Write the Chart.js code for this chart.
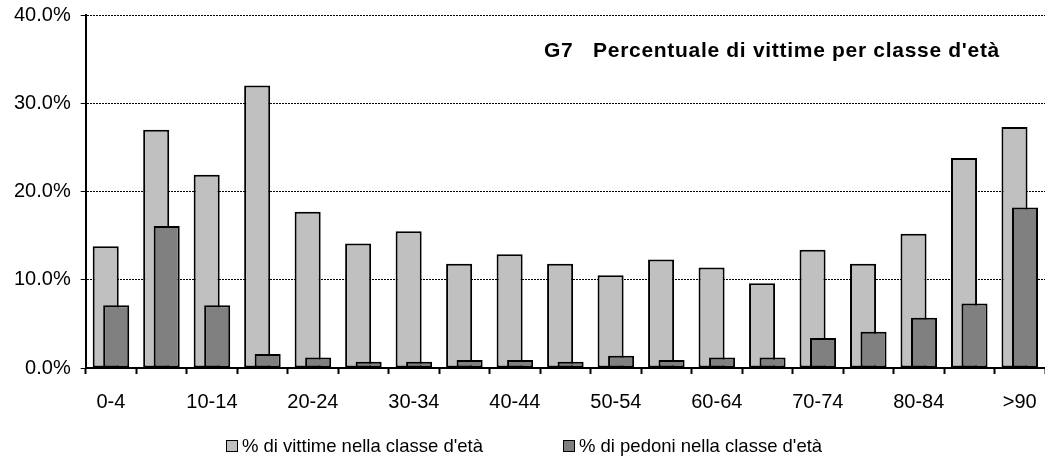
<!DOCTYPE html>
<html lang="it">
<head>
<meta charset="utf-8">
<title>G7 Percentuale di vittime per classe d'età</title>
<script src="https://cdn.jsdelivr.net/npm/chart.js@4/dist/chart.umd.min.js"></script>
<style>
  html, body { margin: 0; padding: 0; background: #fff; }
  #wrap { position: relative; width: 1045px; height: 457px; }
  #legend {
    position: absolute; left: 0; right: 0; top: 437px;
    display: flex; justify-content: center; align-items: center;
    font: 18.5px/18px "Liberation Sans", Arial, sans-serif; color: #000;
    padding-left: 3px;
  }
  .item { display: flex; align-items: center; margin: 0 40px; }
  .box { width: 10px; height: 10px; border: 1px solid #000; margin-right: 4px; }
</style>
</head>
<body>
<div id="wrap">
  <canvas id="chart" width="1045" height="457"></canvas>
  <div id="legend"></div>
</div>
<script>
const ageClasses = ["0-4", "5-9", "10-14", "15-19", "20-24", "25-29", "30-34", "35-39", "40-44",
  "45-49", "50-54", "55-59", "60-64", "65-69", "70-74", "75-79", "80-84", "85-89", ">90"];
const vittime = [13.8, 27.0, 21.9, 32.0, 17.7, 14.1, 15.5, 11.8, 12.9, 11.8, 10.5, 12.3, 11.4, 9.6, 13.4, 11.8, 15.2, 23.8, 27.3];
const pedoni = [7.1, 16.1, 7.1, 1.6, 1.2, 0.7, 0.7, 0.9, 0.9, 0.7, 1.4, 0.9, 1.2, 1.2, 3.4, 4.1, 5.7, 7.3, 18.2];
const yTicks = [0, 10, 20, 30, 40];
const seriesLabels = ["% di vittime nella classe d'età", "% di pedoni nella classe d'età"];
const chartTitle = "G7   Percentuale di vittime per classe d'età";

Chart.defaults.font.family = '"Liberation Sans", Arial, sans-serif';
Chart.defaults.color = "#000";

// title sits inside the plot, top right
const titleInside = {
  id: "titleInside",
  afterDraw(chart) {
    const { ctx, chartArea } = chart;
    ctx.save();
    ctx.font = 'bold 21px "Liberation Sans", Arial, sans-serif';
    ctx.letterSpacing = "0.7px";
    ctx.fillStyle = "#000";
    ctx.textAlign = "right";
    ctx.textBaseline = "alphabetic";
    ctx.fillText(chartTitle, chartArea.right - 45, chartArea.top + 42);
    ctx.restore();
  },
};

// pedestrian bars overlap the victim bars from the front
const pedoniInFront = {
  id: "pedoniInFront",
  beforeDatasetDraw(chart, args) {
    if (args.index === 1) return false;
  },
  afterDatasetsDraw(chart) {
    chart.getDatasetMeta(1).controller.draw();
  },
};

const chart = new Chart(document.getElementById("chart"), {
  type: "bar",
  data: {
    labels: ageClasses,
    datasets: [
      {
        label: seriesLabels[0],
        data: vittime,
        backgroundColor: "#c0c0c0",
        borderColor: "#000",
        borderWidth: 2,
        borderSkipped: false,
      },
      {
        label: seriesLabels[1],
        data: pedoni,
        backgroundColor: "#808080",
        borderColor: "#000",
        borderWidth: 2,
        borderSkipped: false,
      },
    ],
  },
  options: {
    responsive: false,
    animation: false,
    categoryPercentage: 0.416,
    barPercentage: 2.48,
    layout: { padding: { top: 15, left: 4, right: 0, bottom: 27 } },
    plugins: {
      legend: { display: false },
      tooltip: { enabled: false },
    },
    scales: {
      x: {
        offset: true,
        grid: {
          offset: true,
          drawOnChartArea: false,
          drawTicks: true,
          tickLength: 6,
          tickWidth: 2,
          tickColor: "#000",
        },
        border: { color: "#000", width: 2 },
        ticks: {
          autoSkip: false,
          maxRotation: 0,
          padding: 3,
          font: { size: 20, lineHeight: 2.5 },
          callback: function (value, index) {
            return index % 2 === 0 ? ageClasses[index] : "";
          },
        },
      },
      y: {
        min: yTicks[0],
        max: yTicks[yTicks.length - 1],
        stacked: false,
        afterBuildTicks: (scale) => {
          scale.ticks = yTicks.map((v) => ({ value: v }));
        },
        grid: {
          color: "#000",
          lineWidth: 1,
          tickLength: 5,
          tickColor: "#000",
        },
        border: { color: "#000", width: 2, dash: [2, 1] },
        ticks: {
          padding: 10,
          font: { size: 20, lineHeight: 0.5 },
          callback: (value) => value.toFixed(1) + "%",
        },
      },
    },
  },
  plugins: [titleInside, pedoniInFront],
});

// legend below the plot, built from the datasets
const legendEl = document.getElementById("legend");
chart.data.datasets.forEach((ds) => {
  const item = document.createElement("div");
  item.className = "item";
  const box = document.createElement("span");
  box.className = "box";
  box.style.background = ds.backgroundColor;
  const text = document.createElement("span");
  text.textContent = ds.label;
  item.appendChild(box);
  item.appendChild(text);
  legendEl.appendChild(item);
});
</script>
</body>
</html>
